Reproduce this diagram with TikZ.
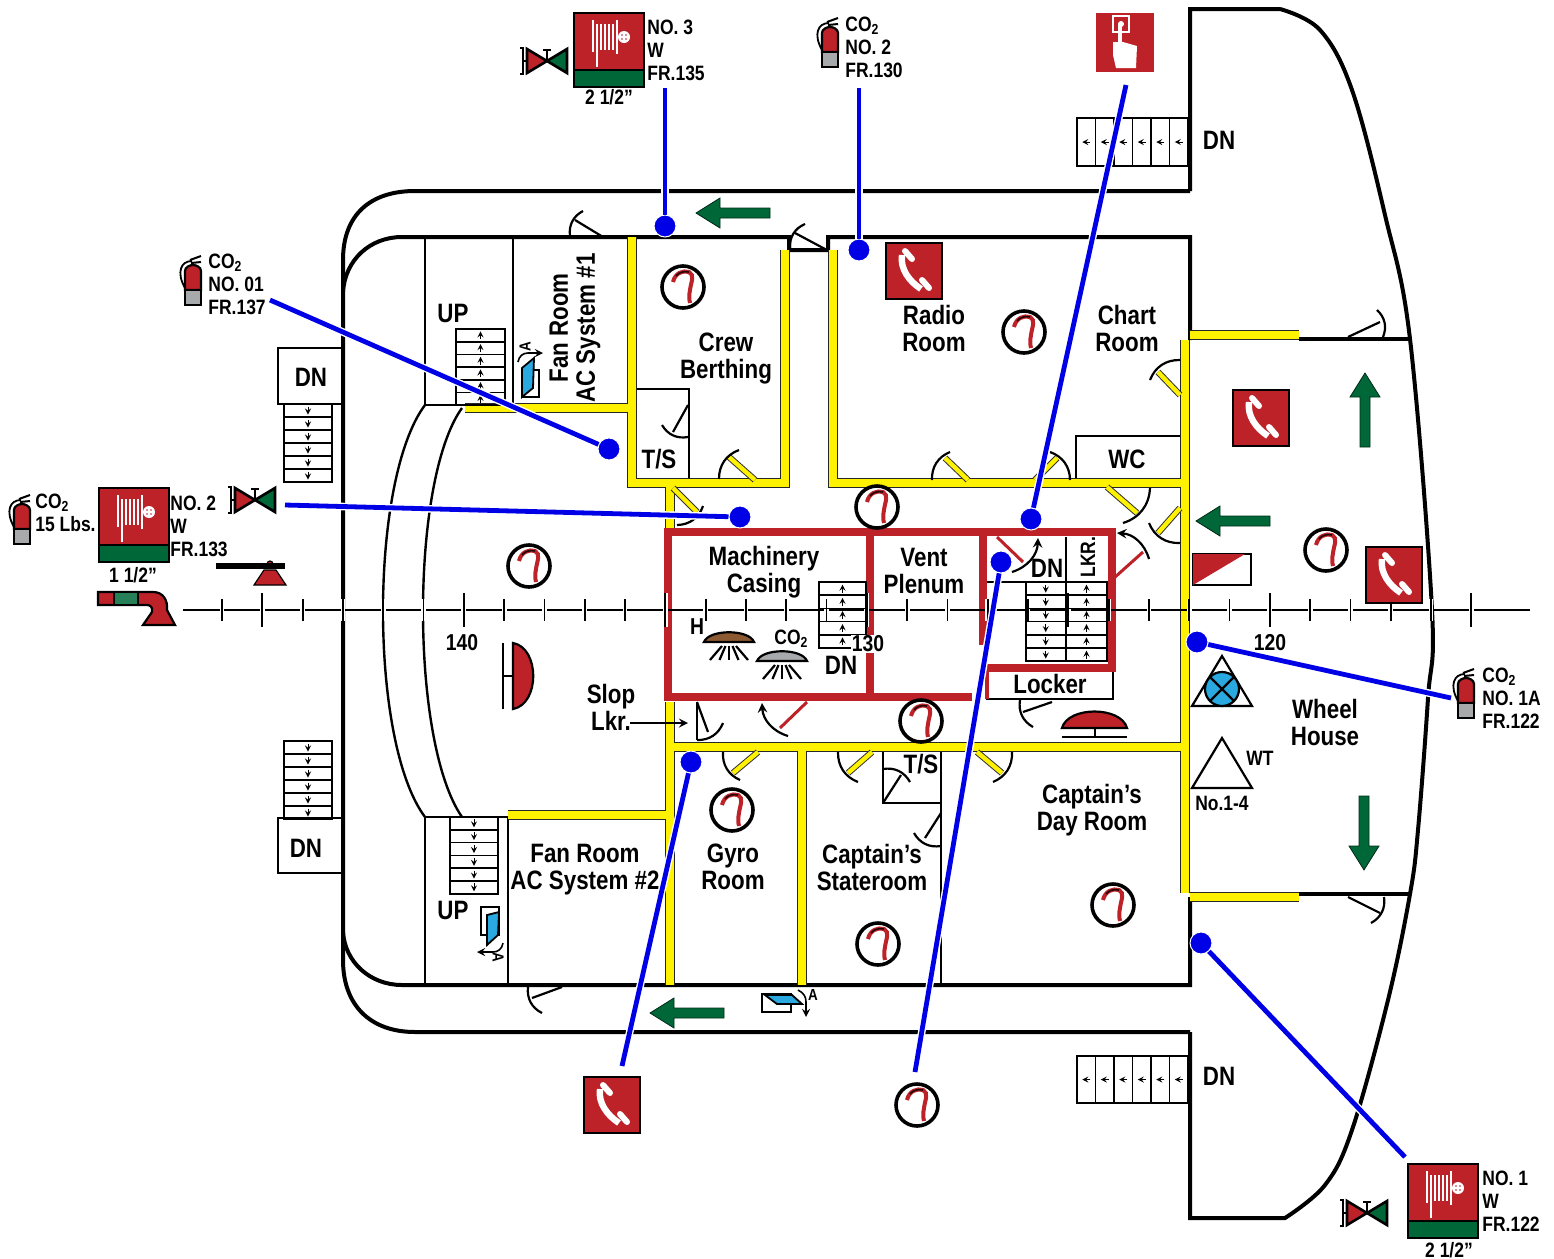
\documentclass[tikz,border=0pt]{standalone}
\usepackage{fontspec}
\setmainfont[FakeStretch=0.84]{Liberation Sans}
\definecolor{firered}{HTML}{BE2229}
\definecolor{firegreen}{HTML}{006838}
\definecolor{leaderblue}{HTML}{0000E6}
\definecolor{plateblue}{HTML}{29A9E0}
\definecolor{domebrown}{HTML}{8C5A32}
\definecolor{domegray}{HTML}{A8A9AB}

\tikzset{
  wall/.style={draw=black, line width=2pt},
  thinwall/.style={draw=black, line width=1.2pt},
  yellowedge/.style={draw=black!85, line width=4.8pt},
  yellowfill/.style={draw=yellow, line width=3.6pt},
  redwall/.style={draw=firered, line width=3.9pt},
  blackleaf/.style={draw=black, line width=1.1pt},
  yellowleaf/.style={draw=black!80, line width=.5pt, double=yellow, double distance=2.2pt},
  redleaf/.style={draw=firered, line width=1.5pt},
  doorarc/.style={draw=black, line width=1.1pt},
  stairbox/.style={draw=black, line width=.8pt},
  stairtip/.style={->, draw=black, line width=.35pt},
  leader/.style={draw=leaderblue, line width=2.4pt, preaction={draw=white, line width=3.8pt}},
  bluedot/.style={circle, fill=leaderblue, draw=white, line width=.5pt, inner sep=0pt, minimum size=11pt},
  roomlabel/.style={align=center, inner sep=0pt, font=\fontsize{13.3}{13.5}\selectfont\bfseries},
  smalllabel/.style={align=left, anchor=west, inner sep=0pt, font=\fontsize{10.4}{11.5}\selectfont\bfseries},
  pics/detector/.style={code={
    \draw[line width=1.8pt, fill=white] (0,0) circle (21);
    \draw[firered, line width=2pt] (-10,-5) .. controls (-8,-14) and (0,-17) .. (6,-15)
      .. controls (12,-12) and (8,-5) .. (7,3) .. controls (6,8) and (6,12) .. (7,16);
    \draw[black!80!firered, line width=.8pt] (-7,-11) .. controls (-4,-15) and (1,-16) .. (6,-15);
  }},
  pics/phone/.style={code={
    \draw[fill=firered, line width=1.2pt] (-28,-28) rectangle (28,28);
    \draw[white, line width=3.2pt] (-12,-16) .. controls (-14,-2) and (-5,10) .. (7,18);
    \draw[white, line width=3pt, line cap=round] (-9,-20) -- (-2,-12);
    \draw[white, line width=3pt, line cap=round] (8,9) -- (15,17);
  }},
  pics/hose/.style={code={
    \draw[fill=firered, line width=1.3pt] (-35,-37) rectangle (35,37);
    \draw[fill=firegreen, line width=1.3pt] (-35,20) rectangle (35,37);
    \foreach \barx in {-12,-8,-4,0,4} \draw[white, line width=1pt] (\barx,-26) -- (\barx,0);
    \draw[white, line width=1.4pt] (-16,-30) -- (-16,2);
    \draw[white, line width=1.4pt] (8,-30) -- (8,4);
    \draw[white, line width=1.4pt] (-12,0) -- (-12,17);
    \draw[white, line width=1pt] (8,-13) -- (12,-13);
    \fill[white] (15,-13) circle (6);
    \fill[firered] (13,-15) circle (.9) (17,-15) circle (.9) (13,-11) circle (.9) (17,-11) circle (.9);
  }},
  pics/valve/.style={code={
    \draw[fill=firered, line width=1.3pt] (-20,-12) -- (-20,12) -- (0,0) -- cycle;
    \draw[fill=firegreen, line width=1.3pt] (20,-12) -- (20,12) -- (0,0) -- cycle;
    \draw[line width=.8pt] (0,0) -- (0,-11) (-4,-11) -- (4,-11);
    \draw[line width=.8pt] (-27,-13) -- (-24,-13) -- (-24,13) -- (-27,13) (-24,0) -- (-20,0);
  }},
  pics/extinguisher/.style={code={
    \draw[line width=.9pt] (-1,-19) .. controls (-12,-19) and (-17,-8) .. (-8,8);
    \draw[line width=1pt] (-3,-20) -- (8,-24) (-2,-17) -- (8,-18);
    \draw[fill=firered, line width=1.1pt] (-8,10) -- (-8,-9) .. controls (-8,-13) and (-3,-15) .. (0,-15)
      .. controls (3,-15) and (8,-13) .. (8,-9) -- (8,10) -- cycle;
    \draw[fill=domegray, line width=1.1pt] (-8,10) rectangle (8,25);
  }},
  pics/greenarrow/.style={code={
    \draw[fill=firegreen, draw=black!60!firegreen, line width=.4pt] (-37,0) -- (-13,-15) -- (-13,-5)
      -- (37,-5) -- (37,5) -- (-13,5) -- (-13,15) -- cycle;
  }},
  pics/ceilingdome/.style={code={
    \draw[fill=#1, line width=1.1pt] (-25,6) .. controls (-20,-7) and (20,-7) .. (25,6) -- cycle;
    \foreach \rayang in {-50,-25,0,25,50}
      \draw[line width=1.1pt] (\rayang*.14,10) -- (\rayang*.38,24);
  }},
}

% stair flights: x, y, width, tread, count, direction
\newcommand{\vstair}[6]{
  \foreach \i in {1,...,#5}{
    \draw[stairbox] (#1,{#2+(\i-1)*#4}) rectangle ++(#3,#4);
    \draw[stairtip] ({#1+#3/2},{#2+(\i-.5)*#4-4*#6}) -- ({#1+#3/2},{#2+(\i-.5)*#4+4*#6});
  }
}
\newcommand{\hstair}[5]{
  \foreach \i in {1,...,#5}{
    \draw[stairbox] ({#1+(\i-1)*#3},#2) rectangle ++(#3,#4);
    \draw[stairtip] ({#1+(\i-.5)*#3+4},{#2+#4/2}) -- ({#1+(\i-.5)*#3-4},{#2+#4/2});
  }
}
% door: leaf style, arc style, hinge, leaf tip, arc start, arc end
\newcommand{\door}[6]{
  \draw[#1] #3 -- #4;
  \draw[doorarc,#2] #5 to[bend left=35] #6;
}

\begin{document}
\begin{tikzpicture}[
    x=.5pt, y=-.5pt,
    >=stealth
  ]
\useasboundingbox (0,0) rectangle (1554,1259);

% hull and bridge wings
\draw[wall] (1190,191) -- (415,191) .. controls (370,191) and (343,215) .. (343,260) -- (343,960)
  .. controls (343,1005) and (370,1032) .. (415,1032) -- (1190,1032);
\draw[wall] (1190,191) -- (1190,9) -- (1280,9) plot[smooth, tension=.6] coordinates
  {(1280,9) (1320,30) (1352,90) (1385,215) (1410,339) (1432,610) (1428,698) (1418,830) (1410,894)
   (1388,1000) (1352,1130) (1325,1185) (1285,1218)} -- (1190,1218) -- (1190,1032);
\draw[wall] (343,292) .. controls (345,260) and (370,237) .. (402,237) -- (789,237) -- (789,250)
  -- (828,250) -- (828,237) -- (1190,237) -- (1190,340);
\draw[wall] (343,932) .. controls (345,962) and (370,985) .. (402,985) -- (1190,985) -- (1190,897);
\draw[wall] (1299,339) -- (1410,339) (1190,894) -- (1410,894);

% compartment bulkheads
\draw[thinwall] (425,237) -- (425,405) -- (465,405) (513,237) -- (513,405);
\draw[thinwall] (425,985) -- (425,817) -- (508,817) -- (508,985);
\draw[thinwall] (425,405) .. controls (369,480) and (369,742) .. (425,817);
\draw[thinwall] (462,408) .. controls (410,480) and (410,742) .. (462,817);
\draw[thinwall] (637,389) -- (689,389) -- (689,480);
\draw[thinwall] (1180,436) -- (1076,436) -- (1076,480);
\draw[thinwall] (883,752) -- (883,803) -- (941,803) (941,752) -- (941,985);
\draw[thinwall] (986,670) -- (1113,670) -- (1113,699) -- (986,699);
\draw[thinwall] (1066,537) -- (1066,582) (985,582) -- (1112,582);

% yellow bulkheads, edge first and then fill
\foreach \wallstyle in {yellowedge,yellowfill}{
  \draw[\wallstyle] (465,408) -- (632,408) (632,237) -- (632,483) -- (785,483) -- (785,250);
  \draw[\wallstyle] (670,487) -- (670,528);
  \draw[\wallstyle] (833,250) -- (833,483) -- (1185,483);
  \draw[\wallstyle] (1185,340) -- (1185,893);
  \draw[\wallstyle] (1190,335) -- (1299,335) (1190,897) -- (1299,897);
  \draw[\wallstyle] (670,702) -- (670,985) (668,747) -- (1185,747);
  \draw[\wallstyle] (802,747) -- (802,985) (508,815) -- (670,815);
}

% machinery casing
\draw[redwall] (668,532) rectangle (870,697);
\draw[redwall] (870,532) -- (1112,532) -- (1112,668) -- (987,668);
\draw[redwall] (870,697) -- (972,697) (983,532) -- (983,645);
\draw[redwall, line width=2.4pt] (987,668) -- (987,699);

% doors
\door{blackleaf}{}{(603,237)}{(575,220)}{(570,236)}{(583,211)}
\door{blackleaf}{}{(825,249)}{(795,233)}{(790,248)}{(805,224)}
\door{blackleaf}{}{(688,405)}{(673,432)}{(688,437)}{(662,425)}
\door{yellowleaf}{}{(755,480)}{(729,457)}{(719,479)}{(739,450)}
\door{yellowleaf}{}{(673,488)}{(697,512)}{(703,506)}{(677,525)}
\door{yellowleaf}{}{(968,480)}{(945,458)}{(932,480)}{(950,452)}
\door{yellowleaf}{}{(1035,480)}{(1057,458)}{(1050,452)}{(1070,480)}
\door{yellowleaf}{}{(1180,395)}{(1158,372)}{(1150,380)}{(1180,360)}
\door{yellowleaf}{}{(1107,487)}{(1137,513)}{(1150,488)}{(1123,523)}
\door{yellowleaf}{}{(1180,508)}{(1158,533)}{(1180,543)}{(1149,523)}
\door{redleaf}{<-}{(1114,578)}{(1143,552)}{(1117,533)}{(1149,559)}
\door{blackleaf}{}{(1348,337)}{(1380,322)}{(1377,310)}{(1383,337)}
\door{blackleaf}{}{(1348,897)}{(1380,913)}{(1384,897)}{(1371,923)}
\door{blackleaf}{}{(697,702)}{(708,732)}{(723,723)}{(697,740)}
\draw[blackleaf] (697,702) -- (697,740);
\door{redleaf}{->}{(807,702)}{(780,728)}{(788,736)}{(762,703)}
\door{redleaf}{<-}{(997,537)}{(1023,562)}{(1038,538)}{(1012,572)}
\door{blackleaf}{}{(1052,702)}{(1023,712)}{(1033,727)}{(1020,700)}
\door{yellowleaf}{}{(758,752)}{(733,773)}{(740,780)}{(723,752)}
\door{yellowleaf}{}{(872,752)}{(848,773)}{(858,782)}{(838,752)}
\door{yellowleaf}{}{(977,752)}{(1002,773)}{(1012,752)}{(993,782)}
\door{blackleaf}{}{(883,803)}{(901,775)}{(883,769)}{(910,782)}
\door{blackleaf}{}{(941,813)}{(925,838)}{(941,846)}{(914,833)}
\door{blackleaf}{}{(562,987)}{(532,998)}{(542,1013)}{(528,987)}

% frame line
\draw[line width=.8pt] (183,610) -- (1530,610);
\foreach \fr in {0,...,31}{
  \pgfmathsetmacro{\frx}{222+\fr*40.3}
  \pgfmathsetmacro{\frlen}{ifthenelse(mod(\fr,5)==1,17,11)}
  \draw[white, line width=2.4pt] (\frx,610-\frlen) -- (\frx,610+\frlen);
  \draw[line width=.9pt] (\frx,610-\frlen) -- (\frx,610+\frlen);
}

% stairs
\vstair{456}{329}{49}{12.7}{6}{-1}
\vstair{450}{817}{48}{12.8}{6}{1}
\vstair{284}{404}{48}{13}{6}{1}
\vstair{284}{741}{48}{13}{6}{1}
\vstair{819}{582}{47}{13.2}{5}{-1}
\vstair{1026}{582}{39.5}{13.2}{6}{1}
\vstair{1066}{582}{41}{13.2}{6}{-1}
\hstair{1077}{118}{18.5}{48}{6}
\hstair{1077}{1056}{18.5}{47}{6}
\draw[thinwall] (278,348) rectangle (342,404);
\draw[thinwall] (278,818) rectangle (342,873);

% room names
\node[roomlabel] (crewberthing) at (726,359) {Crew\\Berthing};
\node[roomlabel] (radioroom) at (934,328) {Radio\\Room};
\node[roomlabel] (chartroom) at (1127,328) {Chart\\Room};
\node[roomlabel] (machinerycasing) at (764,572) {Machinery\\Casing};
\node[roomlabel] (ventplenum) at (924,571) {Vent\\Plenum};
\node[roomlabel, rotate=90] (fanroomone) at (575,328) {Fan Room\\AC System \#1};
\node[roomlabel] (fanroomtwo) at (585,870) {Fan Room\\AC System \#2};
\node[roomlabel] (gyroroom) at (733,867) {Gyro\\Room};
\node[roomlabel] (stateroom) at (872,867) {Captain’s\\Stateroom};
\node[roomlabel] (dayroom) at (1092,810) {Captain’s\\Day Room};
\node[roomlabel] (wheelhouse) at (1325,722) {Wheel\\House};
\node[roomlabel] (sloplkr) at (611,707) {Slop\\Lkr.};
\node[roomlabel] (tsupper) at (659,459) {T/S};
\node[roomlabel] (tslower) at (921,764) {T/S};
\node[roomlabel] (wclabel) at (1127,459) {WC};
\node[roomlabel] (lockerlabel) at (1050,684) {Locker};
\node[smalllabel, anchor=center, rotate=90] (lkrlabel) at (1088,557) {LKR.};
\node[roomlabel] (upleft) at (453,313) {UP};
\node[roomlabel] (uplower) at (453,910) {UP};
\node[roomlabel] (dnport) at (311,377) {DN};
\node[roomlabel] (dnstbd) at (306,848) {DN};
\node[roomlabel] (dnwingtop) at (1219,140) {DN};
\node[roomlabel] (dnwingbot) at (1219,1076) {DN};
\node[roomlabel] (dnlocker) at (1047,568) {DN};
\node[roomlabel] (dncasing) at (841,665) {DN};
\node[roomlabel] (frameoneforty) at (462,643) {\fontsize{11.5}{12}\selectfont 140};
\node[roomlabel, fill=white, inner sep=.5pt] (frameonethirty) at (868,644) {\fontsize{11.5}{12}\selectfont 130};
\node[roomlabel] (frameonetwenty) at (1270,643) {\fontsize{11.5}{12}\selectfont 120};
\node[roomlabel] (heatletter) at (697,627) {\fontsize{11.5}{12}\selectfont H};
\node[smalllabel] (domeco) at (774,639) {CO\textsubscript{2}};
\coordinate (slopend) at (630,723);
\coordinate (slopdoor) at (688,723);
\draw[->, line width=1pt] (slopend) -- (slopdoor);

% equipment labels
\node[smalllabel] (hosethreetext) at (647,50) {NO. 3\\W\\FR.135};
\node[smalllabel] (cotwotext) at (845,47) {CO\textsubscript{2}\\NO. 2\\FR.130};
\node[smalllabel] (cooneztext) at (208,284) {CO\textsubscript{2}\\NO. 01\\FR.137};
\node[smalllabel] (cofifteentext) at (35,513) {CO\textsubscript{2}\\15 Lbs.};
\node[smalllabel] (hosetwotext) at (170,526) {NO. 2\\W\\FR.133};
\node[smalllabel] (hoseonetext) at (1482,1201) {NO. 1\\W\\FR.122};
\node[smalllabel] (cooneatext) at (1482,698) {CO\textsubscript{2}\\NO. 1A\\FR.122};
\node[smalllabel, anchor=center] (hosetwosize) at (133,575) {1 1/2”};
\node[smalllabel, anchor=center] (hosethreesize) at (609,97) {2 1/2”};
\node[smalllabel, anchor=center] (hoseonesize) at (1449,1250) {2 1/2”};
\node[smalllabel, anchor=center] (wtlabel) at (1260,758) {WT};
\node[smalllabel, anchor=center] (wtnumber) at (1222,803) {No.1-4};

% symbols
\foreach \px/\py in {683/287,1024/332,877/507,529/566,1326/550,921/721,732/810,1113/905,878/944,917/1105}
  \pic at (\px,\py) {detector};
\foreach \px/\py in {914/271,1261/418,1394/575,612/1105}
  \pic at (\px,\py) {phone};
\foreach \px/\py in {609/50,134/525,1443/1201}
  \pic at (\px,\py) {hose};
\foreach \px/\py in {547/61,255/500,1367/1213}
  \pic at (\px,\py) {valve};
\foreach \px/\py in {830/42,193/280,22/519,1466/693}
  \pic at (\px,\py) {extinguisher};
\pic at (733,213) {greenarrow};
\pic at (687,1013) {greenarrow};
\pic at (1233,521) {greenarrow};
\pic[rotate=-90] at (1365,410) {greenarrow};
\pic[rotate=90] at (1364,833) {greenarrow};
\pic at (729,636) {ceilingdome=domebrown};
\pic at (782,655) {ceilingdome=domegray};

% call point
\fill[firered] (1096,13) rectangle (1154,72);
\draw[white, line width=1pt] (1113,16) rectangle (1129,32);
\fill[white] (1121,24) circle (3);
\draw[white, line width=2pt] (1120,24) -- (1120,42);
\fill[white] (1113,42) -- (1123,42) -- (1137,46) -- (1136,68) -- (1116,68) -- (1113,55) -- cycle;

% damper, muster and alarm marks
\draw[line width=1.2pt] (1193,554) rectangle (1251,585);
\fill[firered] (1193,554) -- (1245,554) -- (1193,585) -- cycle;
\draw[line width=1.1pt] (1192,706) -- (1252,706) -- (1222,656) -- cycle;
\draw[fill=plateblue, line width=1.1pt] (1222,689) circle (17);
\draw[line width=1.1pt] (1210,677) -- (1234,701) (1234,677) -- (1210,701);
\draw[line width=1.1pt] (1192,788) -- (1252,788) -- (1222,738) -- cycle;
\draw[fill=firered, line width=1.1pt] (513,643) .. controls (540,648) and (540,704) .. (513,709) -- cycle;
\draw[line width=1.1pt] (503,643) -- (503,709) (503,676) -- (513,676);
\draw[fill=firered, line width=1.1pt] (1062,728) .. controls (1068,706) and (1121,706) .. (1127,728) -- cycle;
\draw[line width=1.1pt] (1062,737) -- (1127,737) (1095,728) -- (1095,737);

% seesaw and pipe
\draw[fill=firered, line width=.6pt] (254,585) -- (286,585) -- (276,570) -- (264,570) -- cycle;
\draw[fill=firered, line width=.6pt] (270,564) circle (3);
\draw[line width=2.6pt] (216,566) -- (285,566);
\draw[fill=firered, line width=1.1pt] (98,592) -- (153,592) .. controls (163,592) and (168,600) .. (167,610)
  -- (175,625) -- (143,625) -- (152,612) .. controls (153,607) and (150,605) .. (147,605) -- (98,605) -- cycle;
\draw[fill=firegreen!85!white, line width=1.1pt] (114,592) rectangle (138,605);

% turned plates
\draw[fill=white, line width=.9pt] (522,370) rectangle (539,397);
\draw[fill=plateblue, line width=.9pt] (522,397) -- (533,388) -- (534,358) -- (522,368) -- cycle;
\draw[->, line width=.8pt] (518,362) .. controls (519,356) and (523,353) .. (528,353) -- (543,353);
\node[smalllabel, anchor=center, rotate=90] (plateAone) at (525,347) {\fontsize{8}{8}\selectfont A};
\draw[fill=white, line width=.9pt] (481,907) rectangle (499,935);
\draw[fill=plateblue, line width=.9pt] (487,915) -- (499,912) -- (498,935) -- (487,945) -- cycle;
\draw[->, line width=.8pt] (503,943) .. controls (502,949) and (498,952) .. (493,952) -- (477,952);
\node[smalllabel, anchor=center, rotate=-90] (plateAtwo) at (498,957) {\fontsize{8}{8}\selectfont A};
\draw[fill=white, line width=.9pt] (762,994) rectangle (791,1012);
\draw[fill=plateblue, line width=.9pt] (765,995) -- (792,995) -- (802,1004) -- (777,1004) -- cycle;
\draw[->, line width=.8pt] (798,990) .. controls (804,993) and (806,997) .. (806,1002) -- (806,1017);
\node[smalllabel, anchor=center] (plateAthree) at (813,995) {\fontsize{8}{8}\selectfont A};

% leaders
\coordinate (hosethreeend) at (665,88);
\coordinate (cotwoend) at (859,88);
\coordinate (callend) at (1126,85);
\coordinate (cooneend) at (270,300);
\coordinate (hosetwoend) at (285,505);
\coordinate (cooneaend) at (1451,698);
\coordinate (hoseoneend) at (1405,1157);
\coordinate (phoneend) at (622,1066);
\coordinate (detectorend) at (915,1072);
\node[bluedot] (hosethreedot) at (665,226) {};
\node[bluedot] (cotwodot) at (859,250) {};
\node[bluedot] (calldot) at (1031,519) {};
\node[bluedot] (coonedot) at (609,449) {};
\node[bluedot] (hosetwodot) at (740,517) {};
\node[bluedot] (cooneadot) at (1197,642) {};
\node[bluedot] (hoseonedot) at (1201,943) {};
\node[bluedot] (phonedot) at (691,762) {};
\node[bluedot] (detectordot) at (1001,562) {};
\path[leader] (hosethreeend) -- (hosethreedot);
\path[leader] (cotwoend) -- (cotwodot);
\path[leader] (callend) -- (calldot);
\path[leader] (cooneend) -- (coonedot);
\path[leader] (hosetwoend) -- (hosetwodot);
\path[leader] (cooneaend) -- (cooneadot);
\path[leader] (hoseoneend) -- (hoseonedot);
\path[leader] (phoneend) -- (phonedot);
\path[leader] (detectorend) -- (detectordot);
\end{tikzpicture}
\end{document}
